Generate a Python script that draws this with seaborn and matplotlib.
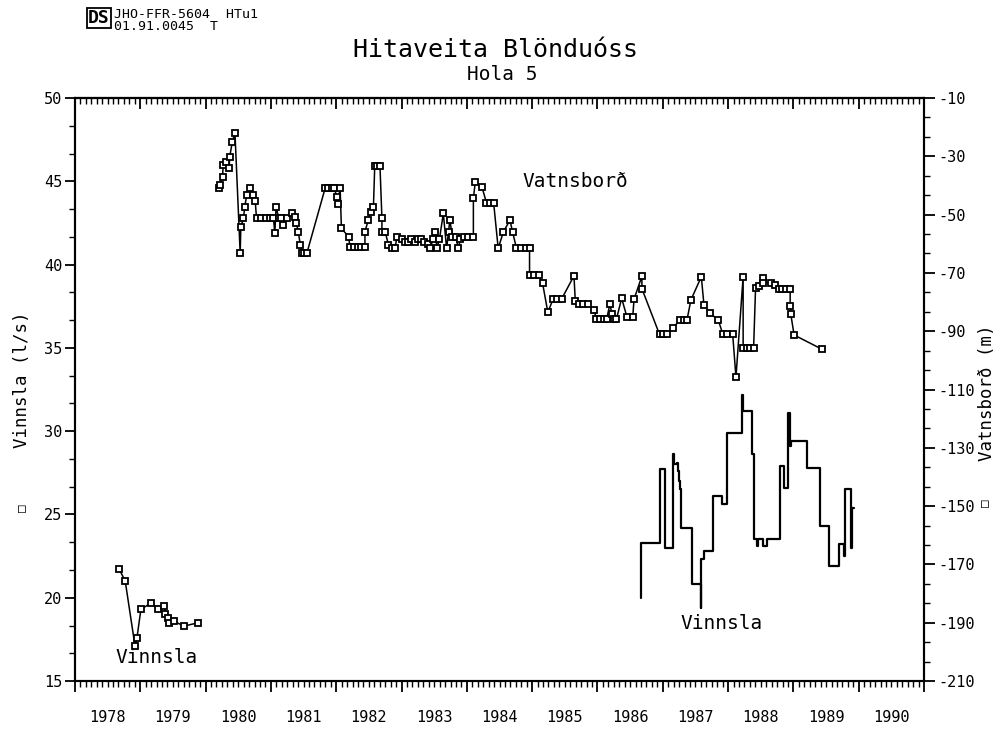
import matplotlib
matplotlib.use("Agg")
import matplotlib.pyplot as plt
import seaborn as sns
from matplotlib.ticker import MultipleLocator, AutoMinorLocator

# Vatnsbord (water level, m) - right axis
vatn_year = [
    1980.21, 1980.22, 1980.26, 1980.27, 1980.32, 1980.36, 1980.37, 1980.41, 1980.45,
    1980.53, 1980.54, 1980.58, 1980.60, 1980.63, 1980.68, 1980.72, 1980.76, 1980.78,
    1980.85, 1980.92, 1980.98, 1981.04, 1981.06, 1981.08, 1981.12, 1981.16, 1981.19,
    1981.24, 1981.32, 1981.37, 1981.39, 1981.42, 1981.45, 1981.47, 1981.51, 1981.55,
    1981.83, 1981.88, 1981.93, 1981.97, 1982.01, 1982.02, 1982.06, 1982.08, 1982.19,
    1982.21, 1982.27, 1982.33, 1982.38, 1982.44, 1982.44, 1982.49, 1982.53, 1982.57,
    1982.59, 1982.63, 1982.67, 1982.70, 1982.70, 1982.75, 1982.80, 1982.85, 1982.90,
    1982.93, 1983.00, 1983.05, 1983.10, 1983.15, 1983.20, 1983.25, 1983.30, 1983.35,
    1983.40, 1983.44, 1983.48, 1983.52, 1983.54, 1983.58, 1983.64, 1983.69, 1983.72,
    1983.74, 1983.78, 1983.83, 1983.87, 1983.90, 1983.95, 1984.02, 1984.10, 1984.10,
    1984.13, 1984.23, 1984.30, 1984.35, 1984.41, 1984.48, 1984.56, 1984.66, 1984.70,
    1984.76, 1984.83, 1984.90, 1984.96, 1984.96, 1985.03, 1985.10, 1985.16, 1985.24,
    1985.32, 1985.38, 1985.45, 1985.64, 1985.66, 1985.72, 1985.78, 1985.86, 1985.95,
    1985.98, 1986.04, 1986.10, 1986.14, 1986.19, 1986.22, 1986.25, 1986.29, 1986.37,
    1986.45, 1986.54, 1986.56, 1986.68, 1986.68, 1986.95, 1987.00, 1987.06, 1987.15,
    1987.26, 1987.32, 1987.37, 1987.43, 1987.59, 1987.63, 1987.73, 1987.85, 1987.92,
    1987.98, 1988.07, 1988.12, 1988.23, 1988.23, 1988.29, 1988.34, 1988.39, 1988.42,
    1988.48, 1988.54, 1988.54, 1988.65, 1988.72, 1988.78, 1988.82, 1988.88, 1988.95,
    1988.95, 1988.96, 1989.01, 1989.43,
]
vatn_level = [
    -41.0, -39.8, -37.0, -33.0, -31.8, -34.1, -30.1, -25.0, -21.9,
    -63.3, -54.1, -51.3, -47.3, -43.3, -41.0, -43.3, -45.2, -51.3,
    -51.3, -51.3, -51.3, -51.3, -56.4, -47.3, -51.3, -51.3, -53.6,
    -51.3, -49.6, -50.7, -53.0, -55.9, -60.4, -63.3, -63.3, -63.3,
    -41.0, -41.0, -41.0, -41.0, -43.9, -46.3, -41.0, -54.7, -57.6,
    -61.0, -61.0, -61.0, -61.0, -61.0, -55.9, -51.9, -49.0, -47.3,
    -33.3, -33.3, -33.3, -51.3, -55.9, -55.9, -60.4, -61.6, -61.6,
    -57.6, -58.5, -59.3, -59.3, -58.5, -59.3, -58.5, -58.5, -59.3,
    -60.0, -61.6, -58.5, -55.9, -61.6, -58.5, -49.6, -61.6, -55.9,
    -51.9, -57.6, -57.6, -61.6, -58.5, -57.6, -57.6, -57.6, -44.4,
    -38.7, -40.4, -45.9, -45.9, -45.9, -61.6, -55.9, -51.9, -55.9,
    -61.6, -61.6, -61.6, -61.6, -70.7, -70.7, -70.7, -73.6, -83.5,
    -79.0, -79.0, -79.0, -71.0, -79.5, -80.7, -80.7, -80.7, -82.7,
    -85.9, -85.9, -85.9, -85.9, -80.7, -84.0, -85.9, -85.9, -78.7,
    -85.0, -85.0, -79.0, -71.1, -75.4, -91.1, -91.1, -91.1, -89.0,
    -86.2, -86.2, -86.2, -79.3, -71.3, -81.0, -83.9, -86.2, -91.1,
    -91.1, -91.1, -105.8, -71.3, -95.9, -95.9, -95.9, -95.9, -75.3,
    -74.5, -71.8, -73.5, -73.5, -74.2, -75.6, -75.6, -75.6, -75.6,
    -81.2, -84.2, -91.3, -96.1,
]

# Vinnsla (production, l/s) 1978-1979, measured points - left axis
vinn_pt_year = [1978.68, 1978.77, 1978.92, 1978.95, 1979.01, 1979.17, 1979.27,
                1979.37, 1979.38, 1979.43, 1979.44, 1979.51, 1979.67, 1979.89]
vinn_pt_flow = [21.7, 21.0, 17.1, 17.6, 19.3, 19.7, 19.3,
                19.5, 19.0, 18.8, 18.5, 18.6, 18.3, 18.5]

# Vinnsla (production, l/s) 1986-1989, stepwise record - left axis
vinn_step_year = [
    1986.66, 1986.66, 1986.95, 1987.04, 1987.15, 1987.17, 1987.21, 1987.23,
    1987.25, 1987.27, 1987.28, 1987.44, 1987.58, 1987.59, 1987.63, 1987.77,
    1987.91, 1987.99, 1988.22, 1988.23, 1988.36, 1988.39, 1988.44, 1988.45,
    1988.54, 1988.59, 1988.80, 1988.85, 1988.92, 1988.94, 1988.96, 1989.20,
    1989.41, 1989.54, 1989.70, 1989.78, 1989.79, 1989.88, 1989.90, 1989.93,
]
vinn_step_flow = [
    20.0, 23.3, 27.7, 23.0, 28.6, 28.0, 28.1, 27.6,
    27.0, 26.5, 24.2, 20.8, 19.4, 22.3, 22.8, 26.1,
    25.6, 29.9, 32.2, 31.2, 28.6, 23.5, 23.1, 23.5,
    23.1, 23.5, 27.9, 26.6, 31.1, 29.1, 29.4, 27.8,
    24.3, 21.9, 23.2, 22.5, 26.5, 23.0, 25.4, 25.4,
]

years = list(range(1978, 1991))

sns.set_style("ticks")
plt.rcParams['font.family'] = ['DejaVu Sans Mono', 'DejaVu Sans']
plt.rcParams['axes.unicode_minus'] = False
plt.rcParams['text.color'] = 'black'
plt.rcParams['xtick.color'] = 'black'
plt.rcParams['ytick.color'] = 'black'
plt.rcParams['axes.edgecolor'] = 'black'

fig = plt.figure(figsize=(9.99, 7.33), dpi=100)
ax = fig.add_axes([0.075, 0.0709, 0.85, 0.7954])
ax2 = ax.twinx()

mk = dict(marker='s', markersize=5, markerfacecolor='white',
          markeredgecolor='black', markeredgewidth=1.3)

sns.lineplot(x=vinn_pt_year, y=vinn_pt_flow, ax=ax, sort=False, estimator=None,
             color='black', linewidth=1.1, **mk)
sns.lineplot(x=vinn_step_year, y=vinn_step_flow, ax=ax, sort=False, estimator=None,
             color='black', linewidth=1.6, drawstyle='steps-post')
sns.lineplot(x=vatn_year, y=vatn_level, ax=ax2, sort=False, estimator=None,
             color='black', linewidth=1.1, **mk)

ax.set_xlim(1978, 1991)
ax.set_ylim(15, 50)
ax2.set_ylim(-210, -10)

for a in (ax, ax2):
    for s in a.spines.values():
        s.set_linewidth(1.5)
        s.set_color('black')
    a.spines['top'].set_visible(True)
    a.spines['right'].set_visible(True)

# x axis: yearly major ticks, monthly minor ticks, labels mid-year
ax.xaxis.set_major_locator(MultipleLocator(1))
ax.xaxis.set_minor_locator(MultipleLocator(1 / 12))
ax.tick_params(axis='x', which='major', direction='out', length=8, width=1.3,
               labelbottom=False, top=False)
ax.tick_params(axis='x', which='minor', direction='out', length=4, width=1.0, top=False)
top = ax.secondary_xaxis('top')
top.xaxis.set_major_locator(MultipleLocator(1))
top.xaxis.set_minor_locator(MultipleLocator(1 / 12))
top.tick_params(axis='x', which='major', direction='in', length=8, width=1.3, labeltop=False)
top.tick_params(axis='x', which='minor', direction='in', length=4, width=1.0)
top.spines['top'].set_linewidth(1.5)
for y in years:
    ax.text(y + 0.5, -0.062, str(y), transform=ax.get_xaxis_transform(),
            ha='center', va='center', fontsize=11)

# left axis
ax.set_yticks(range(15, 51, 5))
ax.yaxis.set_minor_locator(AutoMinorLocator(3))
ax.tick_params(axis='y', which='major', direction='out', length=7, width=1.3,
               labelsize=11, pad=2)
ax.tick_params(axis='y', which='minor', direction='out', length=4, width=1.0)

# right axis
ax2.set_yticks(range(-210, -9, 20))
ax2.yaxis.set_minor_locator(AutoMinorLocator(3))
ax2.tick_params(axis='y', which='major', direction='out', length=8, width=1.3,
                labelsize=11, pad=2)
ax2.tick_params(axis='y', which='minor', direction='out', length=4, width=1.0)

ax.set_xlabel('')
ax.set_ylabel('')
ax2.set_ylabel('')

# annotations inside plot
ax.text(0.589, 0.856, 'Vatnsborð', transform=ax.transAxes, ha='center', va='center', fontsize=14)
ax.text(0.762, 0.0995, 'Vinnsla', transform=ax.transAxes, ha='center', va='center', fontsize=14)
ax.text(0.0966, 0.041, 'Vinnsla', transform=ax.transAxes, ha='center', va='center', fontsize=14)

# axis titles with symbol
fig.text(0.022, 1 - 380 / 733, 'Vinnsla (l/s)', rotation=90, ha='center', va='center', fontsize=12.5)
fig.text(0.022, 1 - 508 / 733, '□', rotation=90, ha='center', va='center', fontsize=9,
         fontweight='bold')
fig.text(0.988, 1 - 393 / 733, 'Vatnsborð (m)', rotation=90, ha='center', va='center', fontsize=12.5)
fig.text(0.986, 1 - 503 / 733, '□', rotation=90, ha='center', va='center', fontsize=9,
         fontweight='bold')

# titles
fig.text(0.4955, 1 - 50 / 733, 'Hitaveita Blönduóss', ha='center', va='center', fontsize=18)
fig.text(0.5025, 1 - 75 / 733, 'Hola 5', ha='center', va='center', fontsize=14)

# header stamp
fig.text(0.099, 1 - 18 / 733, 'DS', ha='center', va='center', fontsize=13, fontweight='bold',
         bbox=dict(boxstyle='square,pad=0.08', fc='none', ec='black', lw=1.3))
fig.text(0.114, 1 - 14 / 733, 'JHO-FFR-5604  HTu1', ha='left', va='center', fontsize=9.5)
fig.text(0.114, 1 - 26 / 733, '01.91.0045  T', ha='left', va='center', fontsize=9.5)

fig.savefig('out.png', dpi=100)
